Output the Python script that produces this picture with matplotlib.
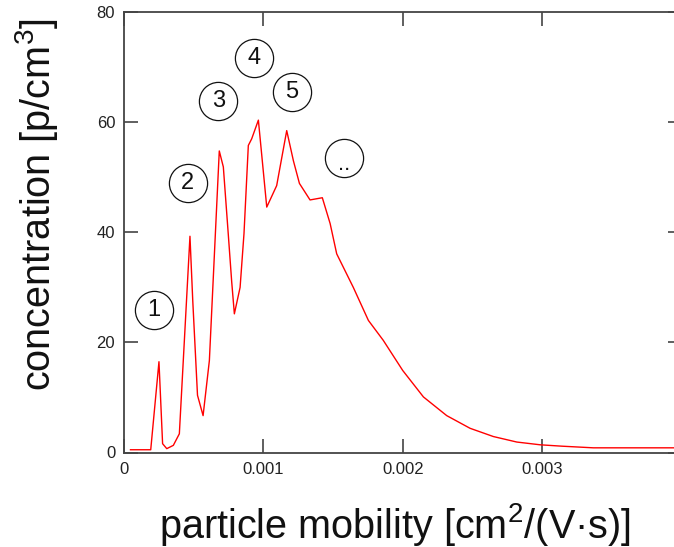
import matplotlib
matplotlib.use("Agg")
import matplotlib.pyplot as plt

plt.rcParams['font.family'] = ['Liberation Sans', 'DejaVu Sans']
plt.rcParams['mathtext.fontset'] = 'custom'
plt.rcParams['mathtext.rm'] = 'Liberation Sans'
plt.rcParams['mathtext.it'] = 'Liberation Sans'
plt.rcParams['mathtext.default'] = 'regular'

# mobility (cm^2/(V s)) and concentration (p/cm^3)
mobility = [0.00005, 0.000195, 0.000254, 0.00028, 0.00031, 0.000357, 0.0004,
            0.000436, 0.000476, 0.000496, 0.00053, 0.00057, 0.000615, 0.000667,
            0.000686, 0.000715, 0.00075, 0.000775, 0.000794, 0.000835, 0.000863,
            0.000894, 0.000918, 0.000966, 0.001026, 0.001097, 0.001169, 0.001217,
            0.00126, 0.001336, 0.001424, 0.00148, 0.001527, 0.001646, 0.001754,
            0.00186, 0.002, 0.002148, 0.002315, 0.002482, 0.002649, 0.002817,
            0.002984, 0.003139, 0.003365, 0.00399]
concentration = [0.5, 0.5, 16.5, 1.6, 0.7, 1.3, 3.4,
                 20.4, 39.3, 27.6, 10.4, 6.7, 16.7, 44.6,
                 54.8, 51.9, 39.8, 31.0, 25.2, 30.0, 39.8,
                 55.8, 57.0, 60.4, 44.6, 48.5, 58.5, 53.0,
                 48.9, 45.9, 46.3, 41.6, 36.1, 30.0, 24.0,
                 20.4, 14.9, 10.1, 6.7, 4.4, 2.9, 1.9,
                 1.4, 1.15, 0.85, 0.85]

# circled peak labels
label_text = ['1', '2', '3', '4', '5', '..']
label_x = [0.00022, 0.00046, 0.000679, 0.000935, 0.001205, 0.00158]
label_y = [25.9, 48.9, 63.8, 71.7, 65.6, 53.5]

xticks = [0, 0.001, 0.002, 0.003]
xticklabels = ['0', '0.001', '0.002', '0.003']
yticks = [0, 20, 40, 60, 80]

W, H = 674, 547
fig = plt.figure(figsize=(W / 100, H / 100), dpi=100)
left, right, bottom, top = 123.5, 682, 452.5, 12.3
ax = fig.add_axes([left / W, (H - bottom) / H, (right - left) / W, (bottom - top) / H])

ax.plot(mobility, concentration, color='#ff0000', lw=1.0)

ax.plot(label_x, label_y, 'o', ms=27.5, mfc='none', mec='#111111', mew=0.9, ls='none')
for t, x, y in zip(label_text, label_x, label_y):
    if t == '..':
        ax.text(x, y - 1.2, t, ha='center', va='center', fontsize=16, color='#111111')
    else:
        ax.text(x, y, t, ha='center', va='center', fontsize=17, color='#111111')

ax.set_xlim(0, 0.004)
ax.set_ylim(0, 80)
ax.set_xticks(xticks)
ax.set_xticklabels(xticklabels)
ax.set_yticks(yticks)

spine_c = '#444444'
for s in ['left', 'top', 'bottom']:
    ax.spines[s].set_color(spine_c)
    ax.spines[s].set_linewidth(1.3)
ax.spines['right'].set_visible(False)

ax.tick_params(direction='in', length=10, width=1.2, color=spine_c,
               top=True, right=True, labelsize=12, labelcolor='#222222')
ax.tick_params(axis='x', pad=7)
ax.tick_params(axis='y', pad=6)

fig.text(395 / W, 9 / H, 'particle mobility [cm$^2$/(V·s)]', ha='center', va='baseline',
         fontsize=28.5, color='#111111')
fig.text(50 / W, (H - 205) / H, 'concentration [p/cm$^3$]', ha='center', va='baseline',
         rotation=90, rotation_mode='anchor', fontsize=28.5, color='#111111')

fig.savefig('out.png', dpi=100)
